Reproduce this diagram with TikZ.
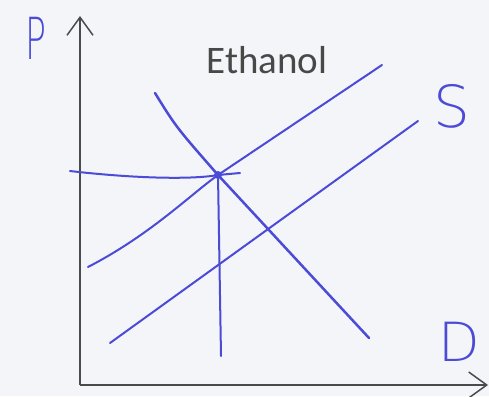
\documentclass[tikz,border=0pt]{standalone}
\usepackage{fontspec}
\usepackage{xcolor}
\usetikzlibrary{arrows.meta}
\setmainfont{Carlito}
\newfontfamily\handfont{DejaVu Sans ExtraLight}
\definecolor{pen}{RGB}{75,75,215}
\definecolor{axisgray}{RGB}{75,75,75}
\definecolor{ink}{RGB}{72,72,72}
\definecolor{paper}{RGB}{244,245,248}

\begin{document}
\begin{tikzpicture}[
  x=1pt, y=-1pt,
  axis/.style={draw=axisgray, line width=1.7pt, -{Straight Barb[length=18pt,width=26pt,line width=1.5pt]}},
  curve/.style={draw=pen, line width=2pt, line cap=round},
  hand/.style={text=pen, font=\handfont\fontsize{58}{58}\selectfont, inner sep=0pt},
  dot/.style={circle, fill=pen, inner sep=0pt, minimum size=8pt}
]
\fill[paper] (0,0) rectangle (489,396);
\useasboundingbox (0,0) rectangle (489,396);

% axes
\coordinate (origin) at (80,385);
\coordinate (ytop) at (80,16);
\coordinate (xend) at (488,385);
\draw[axis] (origin) -- (ytop);
\draw[axis] (origin) -- (xend);

\node[font=\fontsize{39}{39}\selectfont, text=ink, anchor=base] (title) at (267,73) {Ethanol};

% equilibrium
\node[dot] (eq) at (218,175) {};

% supply curves
\coordinate (s1a) at (88,267);
\coordinate (s1b) at (382,65);
\coordinate (s2a) at (110,343);
\coordinate (s2b) at (418,121);
\draw[curve] (s1a) .. controls (150,235) and (190,195) .. (eq.center) -- (s1b);
\draw[curve] (s2a) -- (s2b);

% demand curve
\coordinate (d1) at (155,93);
\coordinate (d2) at (369,338);
\draw[curve, line width=2.5pt] (d1) .. controls (176,127) .. (eq.center) -- (d2);

% price and quantity
\coordinate (p1) at (70,171);
\coordinate (p2) at (240,173);
\coordinate (q1) at (221,356);
\draw[curve] (p1) .. controls (130,178) and (190,180) .. (eq.center) -- (p2);
\draw[curve] (eq.center) -- (q1);

\node[hand] (plabel) at (36,38) {\scalebox{0.6}[1]{P}};
\node[hand] (slabel) at (452,106) {S};
\node[hand, font=\handfont\fontsize{54}{54}\selectfont] (dlabel) at (459,342) {D};
\end{tikzpicture}
\end{document}
